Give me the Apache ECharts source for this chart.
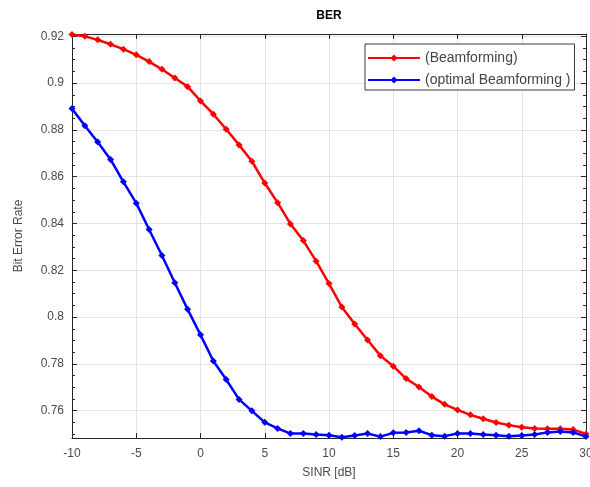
<!DOCTYPE html>
<html>
<head>
<meta charset="utf-8">
<script src="https://cdn.jsdelivr.net/npm/echarts@6/dist/echarts.min.js"></script>
<style>
  html, body { margin: 0; padding: 0; background: #fff; }
  #chart { width: 590px; height: 487px; }
</style>
</head>
<body>
<div id="chart"></div>
<script>
const sinr = [-10, -9, -8, -7, -6, -5, -4, -3, -2, -1, 0, 1, 2, 3, 4, 5, 6, 7, 8, 9, 10,
  11, 12, 13, 14, 15, 16, 17, 18, 19, 20, 21, 22, 23, 24, 25, 26, 27, 28, 29, 30]

const berBeamforming = [0.9208, 0.9200, 0.9185, 0.9166, 0.9145, 0.9121, 0.9092, 0.9059, 0.9022, 0.8985,
  0.8924, 0.8867, 0.8803, 0.8736, 0.8666, 0.8573, 0.8489, 0.8398, 0.8327, 0.8239,
  0.8143, 0.8043, 0.7970, 0.7902, 0.7835, 0.7790, 0.7737, 0.7701, 0.7660, 0.7627,
  0.7603, 0.7582, 0.7565, 0.7549, 0.7538, 0.7529, 0.7524, 0.7523, 0.7523, 0.7519, 0.7500]

const berOptimal = [0.8891, 0.8818, 0.8748, 0.8674, 0.8578, 0.8487, 0.8374, 0.8263, 0.8147, 0.8033,
  0.7924, 0.7812, 0.7733, 0.7648, 0.7599, 0.7550, 0.7524, 0.7502, 0.7502, 0.7498,
  0.7495, 0.7486, 0.7494, 0.7502, 0.7489, 0.7505, 0.7507, 0.7514, 0.7495, 0.7491,
  0.7502, 0.7502, 0.7498, 0.7495, 0.7491, 0.7494, 0.7498, 0.7507, 0.7511, 0.7507, 0.7489]

const seriesNames = ['(Beamforming)', '(optimal Beamforming )']

const fontFamily = "'Liberation Sans', Arial, sans-serif"
const axisColor = '#262626'
const labelColor = '#4a4a4a'
const gridColor = '#e3e3e3'
const yMin = 0.7483
const yMax = 0.921

const boxAxis = {
  axisLine: { show: true, onZero: false, lineStyle: { color: axisColor, width: 1 } },
  axisTick: { show: true, inside: true, length: 5, lineStyle: { color: axisColor } },
  axisLabel: { show: false },
  splitLine: { show: false },
}

const myChart = echarts.init(document.getElementById('chart'))

myChart.setOption({
  animation: false,
  backgroundColor: '#fff',
  title: {
    text: 'BER',
    left: 324,
    top: 5,
    textAlign: 'center',
    textStyle: { fontFamily, fontSize: 12, fontWeight: 'bold', color: '#000' },
  },
  legend: {
    left: 365,
    top: 44,
    orient: 'vertical',
    itemWidth: 52,
    itemHeight: 9,
    itemGap: 8,
    padding: [7, 4, 3, 2],
    borderColor: '#3a3a3a',
    borderWidth: 1,
    backgroundColor: '#fff',
    textStyle: { fontFamily, fontSize: 14, color: '#444' },
    data: seriesNames,
  },
  grid: {
    left: 72,
    right: 4,
    top: 34,
    bottom: 49,
    outerBoundsMode: 'none',
  },
  xAxis: [
    {
      type: 'value',
      min: -10,
      max: 30,
      interval: 5,
      name: 'SINR [dB]',
      nameLocation: 'middle',
      nameGap: 29,
      nameTextStyle: { fontFamily, fontSize: 12, color: labelColor },
      axisLine: { show: true, onZero: false, lineStyle: { color: axisColor } },
      axisTick: { show: true, inside: true, length: 5, lineStyle: { color: axisColor } },
      axisLabel: { fontFamily, fontSize: 12, color: labelColor, margin: 10 },
      splitLine: { show: true, lineStyle: { color: gridColor } },
    },
    Object.assign({ type: 'value', position: 'top', min: -10, max: 30, interval: 5 }, boxAxis),
  ],
  yAxis: [
    {
      type: 'value',
      min: yMin,
      max: yMax,
      splitNumber: 8,
      name: 'Bit Error Rate',
      nameLocation: 'middle',
      nameGap: 47,
      nameTextStyle: { fontFamily, fontSize: 12, color: labelColor },
      axisLine: { show: true, onZero: false, lineStyle: { color: axisColor } },
      axisTick: { show: true, inside: true, length: 5, lineStyle: { color: axisColor } },
      minorTick: { show: true, splitNumber: 4, length: 3, lineStyle: { color: axisColor } },
      axisLabel: {
        fontFamily,
        fontSize: 12,
        color: labelColor,
        margin: 8,
        showMinLabel: false,
        showMaxLabel: false,
      },
      splitLine: { show: true, lineStyle: { color: gridColor } },
    },
    Object.assign({
      type: 'value',
      position: 'right',
      min: yMin,
      max: yMax,
      splitNumber: 8,
      minorTick: { show: true, splitNumber: 4, length: 3, lineStyle: { color: axisColor } },
    }, boxAxis),
  ],
  series: [
    {
      name: seriesNames[0],
      type: 'line',
      data: sinr.map((x, i) => [x, berBeamforming[i]]),
      color: '#ff0000',
      lineStyle: { width: 2.5 },
      symbol: 'diamond',
      symbolSize: 7,
      showSymbol: true,
      emphasis: { disabled: true },
    },
    {
      name: seriesNames[1],
      type: 'line',
      data: sinr.map((x, i) => [x, berOptimal[i]]),
      color: '#0000ff',
      lineStyle: { width: 2.5 },
      symbol: 'diamond',
      symbolSize: 7,
      showSymbol: true,
      emphasis: { disabled: true },
    },
  ],
})
</script>
</body>
</html>
